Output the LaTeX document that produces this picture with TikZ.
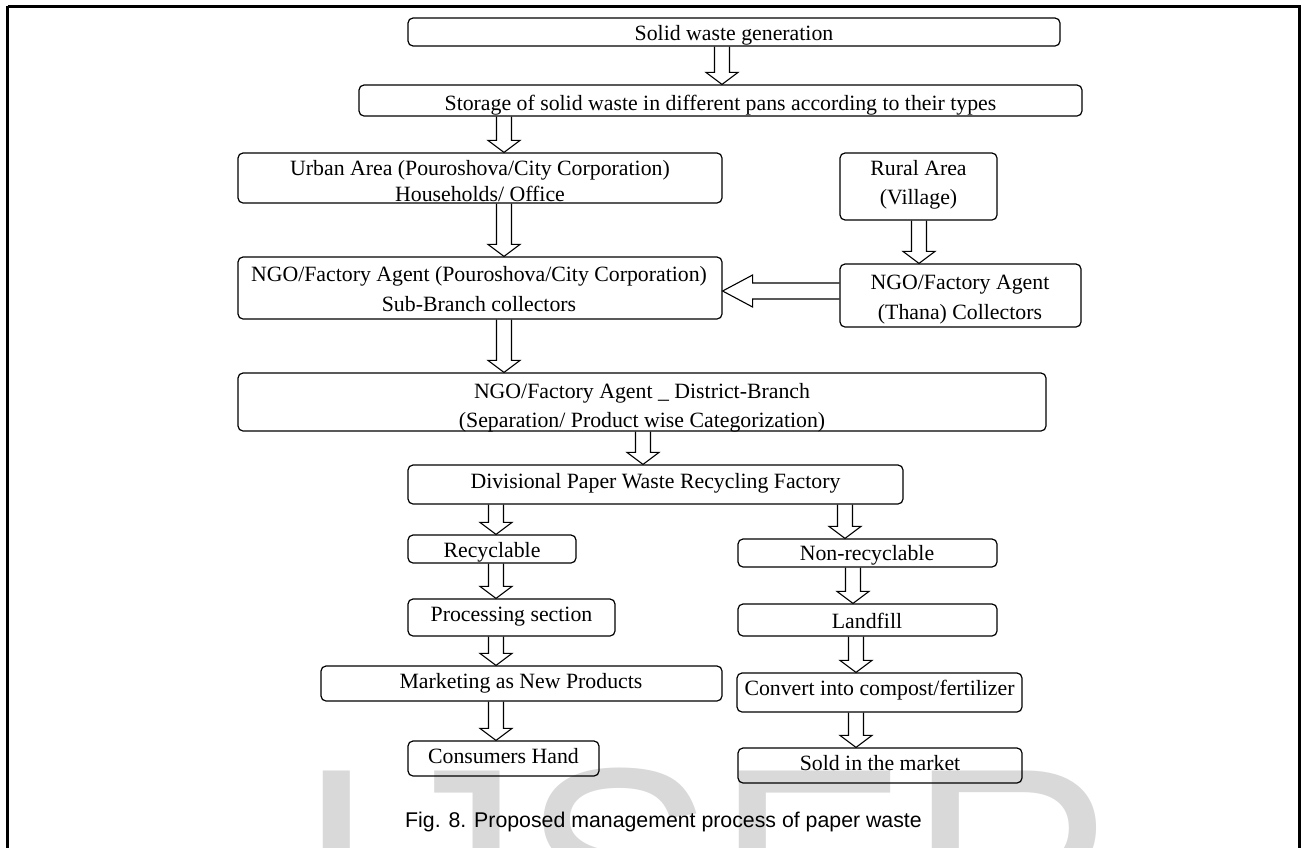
\documentclass[tikz,border=0pt]{standalone}
\usepackage{fontspec}
\setmainfont{Liberation Serif}
\newfontfamily\capfont{Liberation Sans}
\usetikzlibrary{calc,fit}
\definecolor{wmgray}{HTML}{D9D9D9}
\tikzset{
  box/.style={draw=black, line width=1.2pt, rounded corners=5pt, inner sep=0pt},
  txt/.style={inner sep=0pt, anchor=base, font=\fontsize{21.8}{26}\selectfont},
  blockarrow/.style={draw=black, line width=1.1pt, line join=miter},
  frame/.style={draw=black, line width=3pt},
}
\newcommand{\mkbox}[5]{\node[box, fit={(#2,#3) (#4,#5)}] (#1) {};}
\newcommand{\varr}[3]{%
  \coordinate (vx) at (#1,0);
  \coordinate (va) at (#2.south -| vx);
  \coordinate (vb) at (#3.north -| vx);
  \draw[blockarrow] ($(va)+(-7.5,0)$) -- ($(vb)+(-7.5,-12)$) -- ($(vb)+(-16,-12)$) -- (vb) -- ($(vb)+(16,-12)$) -- ($(vb)+(7.5,-12)$) -- ($(va)+(7.5,0)$);
}
\begin{document}
\begin{tikzpicture}[x=1pt,y=-1pt]
\useasboundingbox (0,0) rectangle (1307,847);
\clip (0,0) rectangle (1307,847);
\fill[white] (0,0) rectangle (1307,847);
% watermark
\node[inner sep=0pt, anchor=base west, text=wmgray, font=\capfont\fontsize{290}{290}\selectfont] (wm) at (296,970) {IJSER};
% outer frame
\draw[frame] (7.5,6) -- (7.5,900) (7.5,6) -- (1299,6) -- (1299,900);
% boxes
\mkbox{gen}{408}{18}{1060}{46}
\mkbox{store}{359}{85}{1082}{116}
\mkbox{urban}{238}{153}{722}{203}
\mkbox{rural}{840}{153}{997}{220}
\mkbox{sub}{238}{257}{722}{319}
\mkbox{thana}{840}{264}{1081}{327}
\mkbox{district}{238}{373}{1046}{431}
\mkbox{div}{408}{465}{903}{504}
\mkbox{recyc}{408}{535}{576}{563}
\mkbox{nonrec}{738}{539}{997}{567}
\mkbox{proc}{408}{599}{615}{636}
\mkbox{land}{738}{604}{997}{636}
\mkbox{mkt}{321}{666}{722}{701}
\mkbox{conv}{737}{673}{1022}{712}
\mkbox{cons}{408}{741}{599}{776}
\mkbox{sold}{738}{748}{1022}{783}
% texts
\node[txt] (genT) at (734,40) {Solid waste generation};
\node[txt] (storeT) at (720.5,110) {Storage of solid waste in different pans according to their types};
\node[txt] (urbanT1) at (480,175) {Urban Area (Pouroshova/City Corporation)};
\node[txt] (urbanT2) at (480,201) {Households/ Office};
\node[txt] (ruralT1) at (918.5,175) {Rural Area};
\node[txt] (ruralT2) at (918.5,204) {(Village)};
\node[txt] (subT1) at (479,281) {NGO/Factory Agent (Pouroshova/City Corporation)};
\node[txt] (subT2) at (479,311) {Sub-Branch collectors};
\node[txt] (thanaT1) at (960,289.5) {NGO/Factory Agent};
\node[txt] (thanaT2) at (960,319.5) {(Thana) Collectors};
\node[txt] (distT1) at (642,398) {NGO/Factory Agent \_ District-Branch};
\node[txt] (distT2) at (642,427) {(Separation/ Product wise Categorization)};
\node[txt] (divT) at (655.5,488) {Divisional Paper Waste Recycling Factory};
\node[txt] (recycT) at (492,557) {Recyclable};
\node[txt] (nonrecT) at (867,560) {Non-recyclable};
\node[txt] (procT) at (511.5,621) {Processing section};
\node[txt] (landT) at (867,628) {Landfill};
\node[txt] (mktT) at (521,688.5) {Marketing as New Products};
\node[txt] (convT) at (879.5,695) {Convert into compost/fertilizer};
\node[txt] (consT) at (503.5,763) {Consumers Hand};
\node[txt] (soldT) at (880,770) {Sold in the market};
% vertical block arrows
\varr{722}{gen}{store}
\varr{504}{store}{urban}
\varr{504}{urban}{sub}
\varr{919}{rural}{thana}
\varr{504}{sub}{district}
\varr{643}{district}{div}
\varr{496}{div}{recyc}
\varr{845}{div}{nonrec}
\varr{496}{recyc}{proc}
\varr{853}{nonrec}{land}
\varr{496}{proc}{mkt}
\varr{856}{land}{conv}
\varr{496}{mkt}{cons}
\varr{856}{conv}{sold}
% horizontal block arrow
\coordinate (hy) at (0,291);
\coordinate (ha) at (thana.west |- hy);
\coordinate (hb) at (sub.east |- hy);
\draw[blockarrow] ($(ha)+(0,-8)$) -- ($(hb)+(30,-8)$) -- ($(hb)+(30,-16)$) -- (hb) -- ($(hb)+(30,16)$) -- ($(hb)+(30,8)$) -- ($(ha)+(0,8)$);
% caption
\node[inner sep=0pt, anchor=base west, font=\capfont\fontsize{21.3}{25}\selectfont] (cap) at (405,827) {Fig. 8. Proposed management process of paper waste};
\end{tikzpicture}
\end{document}
